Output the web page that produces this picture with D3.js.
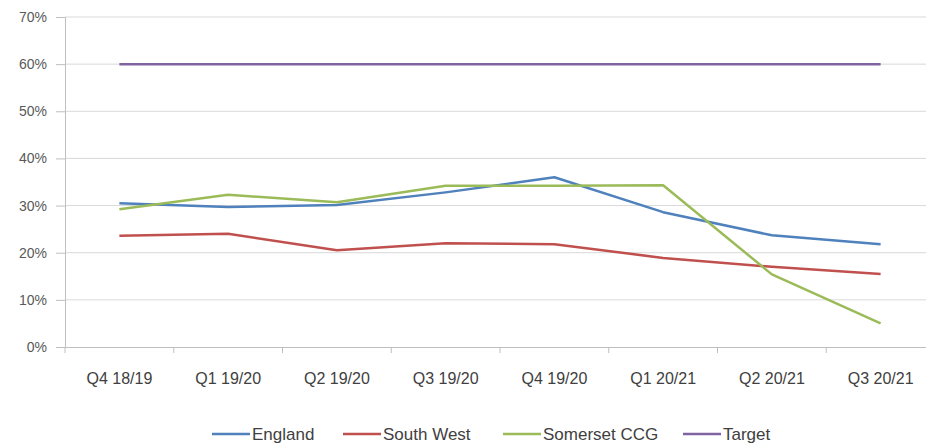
<!DOCTYPE html>
<html><head><meta charset="utf-8">
<script src="https://cdn.jsdelivr.net/npm/d3@7"></script>
<style>body{margin:0;background:#fff;} svg{display:block;font-family:"Liberation Sans",Arial,sans-serif;}</style>
</head><body><svg id="c" width="926" height="447"></svg>
<script>
const categories = ["Q4 18/19","Q1 19/20","Q2 19/20","Q3 19/20","Q4 19/20","Q1 20/21","Q2 20/21","Q3 20/21"];
const england    = [0.305,0.297,0.301,0.328,0.360,0.286,0.237,0.218];
const southWest  = [0.236,0.240,0.205,0.220,0.218,0.189,0.170,0.155];
const somerset   = [0.292,0.323,0.307,0.342,0.342,0.343,0.154,0.050];
const target     = [0.60,0.60,0.60,0.60,0.60,0.60,0.60,0.60];
const yTicks = [0,0.1,0.2,0.3,0.4,0.5,0.6,0.7];
const seriesNames = ["England","South West","Somerset CCG","Target"];
const colors = ["#4F81BD","#C0504D","#9BBB59","#8064A2"];
const seriesData = [england, southWest, somerset, target];

const svg = d3.select("#c");
const x = d3.scaleBand().domain(categories).range([65, 935]);
const y = d3.scaleLinear().domain([0,0.7]).range([347,17]);

// gridlines
svg.append("g").selectAll("line").data(yTicks.slice(1)).join("line")
  .attr("x1",65).attr("x2",926).attr("y1",d=>y(d)).attr("y2",d=>y(d))
  .attr("stroke","#d9d9d9").attr("stroke-width",1);

// y axis
const yAxis = d3.axisLeft(y).tickValues(yTicks).tickFormat(d3.format(".0%")).tickSize(9).tickPadding(9);
const gy = svg.append("g").attr("transform","translate(65,0)").call(yAxis);
gy.select(".domain").attr("stroke","#bfbfbf");
gy.selectAll(".tick line").attr("stroke","#bfbfbf");
gy.selectAll("text").attr("fill","#595959").style("font-size","14px");

// x axis
const xAxis = d3.axisBottom(x).tickSize(0).tickPadding(0);
const gx = svg.append("g").attr("transform","translate(0,347)").call(xAxis);
gx.select(".domain").attr("stroke","#bfbfbf");
gx.selectAll(".tick text").attr("fill","#404040").style("font-size","16px").attr("y",31).attr("dy","0.35em");
// x tick marks at band boundaries
svg.append("g").selectAll("line").data(categories).join("line")
  .attr("x1",d=>x(d)).attr("x2",d=>x(d)).attr("y1",347).attr("y2",353)
  .attr("stroke","#bfbfbf");

const line = d3.line().x((d,i)=>x(categories[i])+x.bandwidth()/2).y(d=>y(d));
svg.append("g").selectAll("path").data(seriesData).join("path")
  .attr("d",d=>line(d)).attr("fill","none")
  .attr("stroke",(d,i)=>colors[i]).attr("stroke-width",2.5)
  .attr("stroke-linejoin","round");

// legend
const legendX = [212, 343, 503, 683];
const lg = svg.append("g").selectAll("g").data(seriesNames).join("g")
  .attr("transform",(d,i)=>`translate(${legendX[i]},434)`);
lg.append("line").attr("x1",0).attr("x2",38).attr("y1",0).attr("y2",0)
  .attr("stroke",(d,i)=>colors[i]).attr("stroke-width",2.5);
lg.append("text").attr("x",40).attr("y",0).attr("dy","0.35em")
  .attr("fill","#404040").style("font-size","17px").text(d=>d);
</script></body></html>
